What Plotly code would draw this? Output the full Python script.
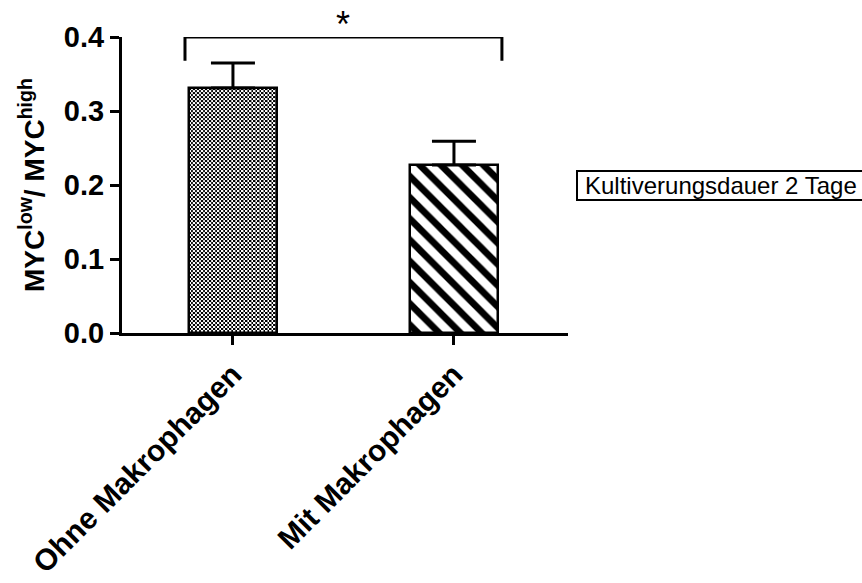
import base64
import plotly.graph_objects as go

categories = ["Ohne Makrophagen", "Mit Makrophagen"]
means = [0.331, 0.227]
sem_up = [0.034, 0.032]
sem_down = [0.0, 0.0]
y_ticks = [0.0, 0.1, 0.2, 0.3, 0.4]
y_ticktext = ["0.0", "0.1", "0.2", "0.3", "0.4"]
bracket_x = [-0.217, -0.217, 1.217, 1.217]
bracket_y = [0.368, 0.4, 0.4, 0.368]
star_text = "*"
legend_text = "Kultiverungsdauer 2 Tage"

FONT = "Liberation Sans, Arial, sans-serif"
W, H = 862, 583
M_L, M_R, M_T, M_B = 122, 294, 37, 250
X_RANGE = [-0.502, 1.516]
Y_RANGE = [0, 0.4]
BAR_W = 0.40

x_idx = list(range(len(categories)))
plot_w = W - M_L - M_R
plot_h = H - M_T - M_B


def checker_uri(wpx, hpx):
    svg = (
        f'<svg xmlns="http://www.w3.org/2000/svg" width="{wpx}" height="{hpx}" '
        f'viewBox="0 0 {wpx} {hpx}" shape-rendering="crispEdges">'
        '<defs><pattern id="p" width="4" height="4" patternUnits="userSpaceOnUse">'
        '<rect width="4" height="4" fill="white"/>'
        '<rect width="2" height="2" fill="black"/>'
        '<rect x="2" y="2" width="2" height="2" fill="black"/>'
        '</pattern></defs>'
        f'<rect width="{wpx}" height="{hpx}" fill="url(#p)"/></svg>'
    )
    return "data:image/svg+xml;base64," + base64.b64encode(svg.encode()).decode()


fig = go.Figure()

# bar 1: checkerboard fill (image under transparent bar), bar 2: diagonal stripes
for i in x_idx:
    if i == 0:
        marker = dict(color="rgba(0,0,0,0)", line=dict(color="black", width=2.5))
        wpx = round(BAR_W / (X_RANGE[1] - X_RANGE[0]) * plot_w)
        hpx = round(means[i] / (Y_RANGE[1] - Y_RANGE[0]) * plot_h)
        fig.add_layout_image(
            source=checker_uri(wpx, hpx), xref="x", yref="y",
            x=i - BAR_W / 2, y=means[i], sizex=BAR_W, sizey=means[i],
            xanchor="left", yanchor="top", sizing="stretch", layer="below",
        )
    else:
        marker = dict(
            color="white", line=dict(color="black", width=2.5),
            pattern=dict(shape="\\", fgcolor="black", bgcolor="white",
                         size=15, solidity=0.45, fillmode="replace"),
        )
    fig.add_trace(go.Bar(
        x=[i], y=[means[i]], width=BAR_W, marker=marker,
        error_y=dict(type="data", symmetric=False, array=[sem_up[i]],
                     arrayminus=[sem_down[i]], color="black", thickness=3, width=22),
        showlegend=False, hoverinfo="skip",
    ))

fig.add_trace(go.Scatter(
    x=bracket_x, y=bracket_y, mode="lines",
    line=dict(color="black", width=3),
    cliponaxis=False, showlegend=False, hoverinfo="skip",
))

# significance star (paper y above the top of the axis)
fig.add_annotation(x=0.5, y=(H - M_B - 24) / plot_h, xref="x", yref="paper",
                   text=star_text, showarrow=False, yanchor="middle",
                   font=dict(family=FONT, size=36, color="black"))

# legend-like box (cut off at right edge)
fig.add_shape(type="rect", xref="paper", yref="paper",
              x0=(577 - M_L) / plot_w, x1=(880 - M_L) / plot_w,
              y0=(H - M_B - 200) / plot_h, y1=(H - M_B - 171) / plot_h,
              line=dict(color="black", width=2), fillcolor="white")
fig.add_annotation(xref="paper", yref="paper", x=(583 - M_L) / plot_w,
                   y=(H - M_B - 185.5) / plot_h,
                   xanchor="left", yanchor="middle", text=legend_text,
                   showarrow=False, font=dict(family=FONT, size=24, color="black"))

fig.update_layout(
    width=W, height=H,
    margin=dict(l=M_L, r=M_R, t=M_T, b=M_B, autoexpand=False),
    paper_bgcolor="white", plot_bgcolor="rgba(0,0,0,0)",
    font=dict(family=FONT, color="black"),
    bargap=0,
)
fig.update_xaxes(
    range=X_RANGE, automargin=False,
    tickmode="array", tickvals=x_idx, ticktext=[f"<b>{c}</b>" for c in categories],
    tickangle=-45, tickfont=dict(family=FONT, size=30, color="black"),
    showline=True, linecolor="black", linewidth=3,
    ticks="outside", ticklen=9, tickwidth=3, tickcolor="black",
    showgrid=False, zeroline=False,
)
fig.update_yaxes(
    range=Y_RANGE, automargin=False,
    tickmode="array", tickvals=y_ticks, ticktext=[f"<b>{t}</b>" for t in y_ticktext],
    tickfont=dict(family=FONT, size=29, color="black"),
    showline=True, linecolor="black", linewidth=3,
    ticks="outside", ticklen=9, tickwidth=3, tickcolor="black",
    showgrid=False, zeroline=False,
    title=dict(text="<b>MYC<sup>low</sup>/ MYC<sup>high</sup></b>",
               font=dict(family=FONT, size=28, color="black"), standoff=12),
)

fig.write_html("out.html", config={"displayModeBar": False},
               post_script="document.body.style.margin='0';")
